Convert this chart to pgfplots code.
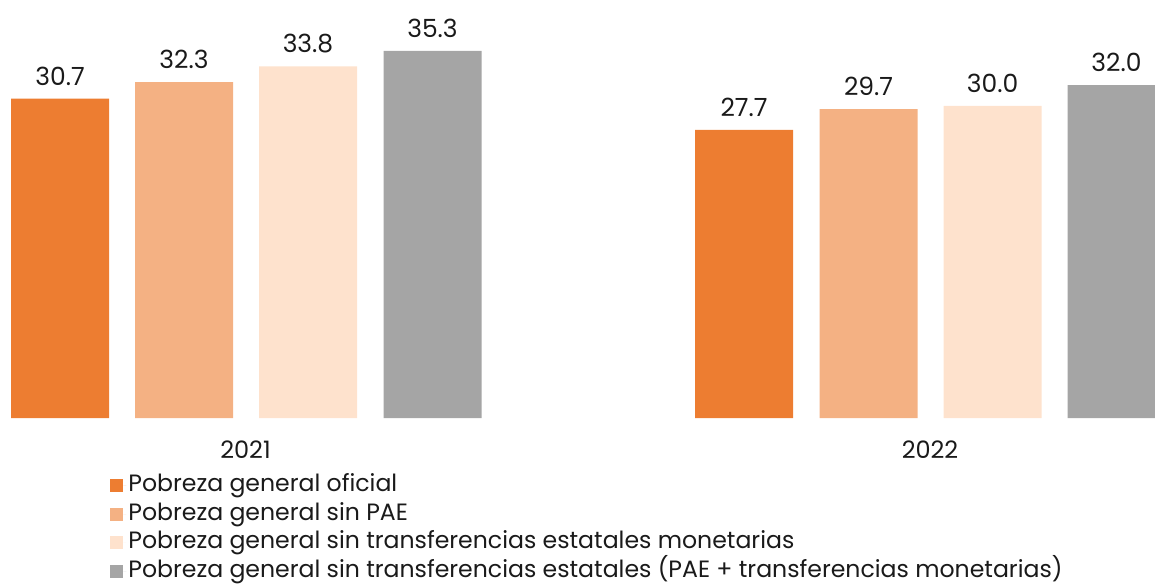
\documentclass[border=0pt]{standalone}
\usepackage{fontspec}
\setmainfont{Poppins}
\usepackage{pgfplots}
\pgfplotsset{compat=1.18}
\definecolor{povA}{HTML}{ED7D31}
\definecolor{povB}{HTML}{F4B183}
\definecolor{povC}{HTML}{FEE2CD}
\definecolor{povD}{HTML}{A5A5A5}
\definecolor{txt}{HTML}{1A1A1A}

\begin{document}
\begin{tikzpicture}
\begin{axis}[
  scale only axis, width=577.5pt, height=209pt,
  xmin=0, xmax=1155, ymin=0, ymax=40.19,
  axis lines=left, axis line style={draw=none,-},
  ytick=\empty, xtick={245.5,930}, xticklabels={2021,2022},
  major tick length=0pt,
  xticklabel style={font=\fontsize{12}{14}\selectfont, text=txt, yshift=-8pt},
  ybar, bar width=49pt,
  nodes near coords={\pgfmathprintnumber[fixed,fixed zerofill,precision=1,assume math mode=true]{\pgfplotspointmeta}},
  every node near coord/.append style={font=\fontsize{12.5}{14}\selectfont, text=txt, anchor=south, yshift=3pt},
  % square swatch plus a little extra room before the text
  legend image code/.code={\fill[#1] (0pt,-3.25pt) rectangle (6.5pt,3.25pt); \path (6.5pt,0pt) -- (8pt,0pt);},
  legend cell align=left,
  legend style={at={(axis cs:110,-5.1)}, anchor=north west, draw=none, fill=none,
    inner sep=0pt, row sep=0.35pt, font=\fontsize{11.8}{14}\selectfont, text=txt,
    nodes={text height=9pt, text depth=3pt, inner sep=1pt}},
]
\addplot[fill=povA, draw=none, bar shift=0pt] coordinates {(60,30.7) (744,27.7)};
\addlegendentry{Pobreza general oficial}
\addplot[fill=povB, draw=none, bar shift=0pt] coordinates {(184,32.3) (868.5,29.7)};
\addlegendentry{Pobreza general sin PAE}
\addplot[fill=povC, draw=none, bar shift=0pt] coordinates {(308,33.8) (992.5,30.0)};
\addlegendentry{Pobreza general sin transferencias estatales monetarias}
\addplot[fill=povD, draw=none, bar shift=0pt] coordinates {(432.5,35.3) (1116.5,32.0)};
\addlegendentry{Pobreza general sin transferencias estatales (PAE + transferencias monetarias)}
\end{axis}
\end{tikzpicture}
\end{document}
